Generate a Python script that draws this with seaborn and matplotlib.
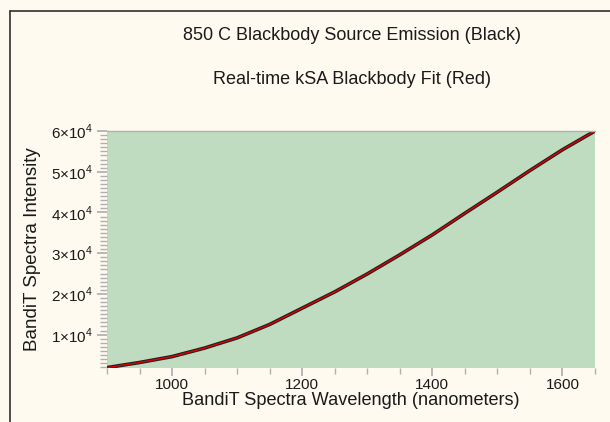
import matplotlib
matplotlib.use("Agg")
import matplotlib.pyplot as plt
import seaborn as sns
import numpy as np
import pandas as pd
from matplotlib.ticker import MultipleLocator
from matplotlib.lines import Line2D

wavelength = [900, 950, 1000, 1050, 1100, 1150, 1200, 1250, 1300, 1350,
              1400, 1450, 1500, 1550, 1600, 1650]
emission = [1900, 3150, 4600, 6700, 9200, 12500, 16500, 20500, 24900, 29600,
            34500, 39800, 45000, 50300, 55400, 60000]
fit = [1900, 3150, 4600, 6700, 9200, 12500, 16500, 20500, 24900, 29600,
       34500, 39800, 45000, 50300, 55400, 60000]
y_ticks = [10000, 20000, 30000, 40000, 50000, 60000]
y_tick_labels = [r"1$\times$10$^{4}$", r"2$\times$10$^{4}$", r"3$\times$10$^{4}$",
                 r"4$\times$10$^{4}$", r"5$\times$10$^{4}$", r"6$\times$10$^{4}$"]
x_ticks = [1000, 1200, 1400, 1600]
title1 = "850 C Blackbody Source Emission (Black)"
title2 = "Real-time kSA Blackbody Fit (Red)"

df = pd.DataFrame({"wl": wavelength, "em": emission, "fit": fit})

sns.set_theme(style="white")
plt.rcParams["font.family"] = ["Liberation Sans", "DejaVu Sans"]
plt.rcParams["mathtext.fontset"] = "custom"
plt.rcParams["mathtext.rm"] = "Liberation Sans"

fig = plt.figure(figsize=(6.10, 4.22), dpi=100, facecolor="#FEFAF0")
ax = fig.add_axes([107/610, 1-368/422, (595-107)/610, (368-131)/422])
ax.set_facecolor("#C0DCC0")

sns.lineplot(data=df, x="wl", y="em", ax=ax, color="#202020", lw=2.6)
sns.lineplot(data=df, x="wl", y="fit", ax=ax, color="#E00000", lw=1.0)

ax.set_xlim(900, 1650)
ax.set_ylim(1800, 60000)
ax.set_xticks(x_ticks)
ax.xaxis.set_minor_locator(MultipleLocator(50))
ax.set_yticks(y_ticks)
ax.set_yticklabels(y_tick_labels)
ax.yaxis.set_minor_locator(MultipleLocator(1000))

for s in ["left", "right", "bottom"]:
    ax.spines[s].set_visible(False)
ax.spines["top"].set_color("#B0B0B0")
ax.spines["top"].set_linewidth(1.0)

ax.tick_params(axis="both", which="both", direction="out", color="#B0B0B0",
               labelsize=11, labelcolor="#1A1A1A")
ax.tick_params(axis="x", which="major", length=6, pad=1.5, bottom=True)
ax.tick_params(axis="x", which="minor", length=4, bottom=True)
ax.tick_params(axis="y", which="major", length=7, pad=3, left=True)
ax.tick_params(axis="y", which="minor", length=5, left=True)

ax.set_xlabel("BandiT Spectra Wavelength (nanometers)", fontsize=13.1,
              color="#1A1A1A")
ax.xaxis.set_label_coords(0.5, -(392 - 368) / 237)
ax.set_ylabel("BandiT Spectra Intensity", fontsize=13.5, color="#1A1A1A", labelpad=7)

fig.text(352/610, 1-36/422, title1, ha="center", va="center", fontsize=13, color="#1A1A1A")
fig.text(352/610, 1-79/422, title2, ha="center", va="center", fontsize=13, color="#1A1A1A")

# outer frame (top and left edges)
fig.add_artist(Line2D([10/610, 10/610], [0, 1-11/422], transform=fig.transFigure,
                      color="#303030", lw=1.2))
fig.add_artist(Line2D([10/610, 1], [1-11/422, 1-11/422], transform=fig.transFigure,
                      color="#303030", lw=1.2))

fig.savefig("out.png", dpi=100, facecolor=fig.get_facecolor())
